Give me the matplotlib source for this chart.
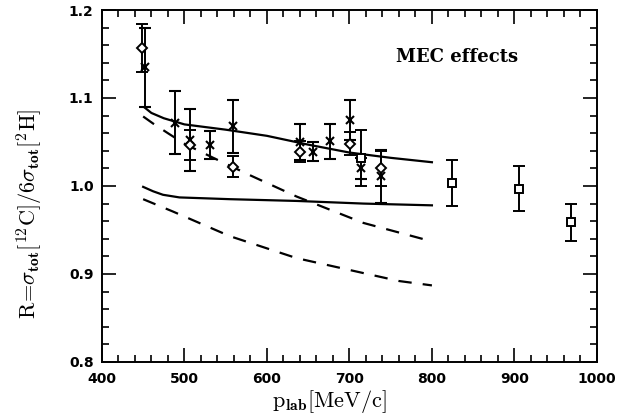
import numpy as np
import matplotlib.pyplot as plt
from matplotlib.ticker import MultipleLocator

plt.rcParams['mathtext.fontset'] = 'cm'

# data
cross_x = [452, 488, 507, 531, 559, 640, 656, 676, 701, 714, 738]
cross_y = [1.135, 1.072, 1.052, 1.047, 1.068, 1.050, 1.039, 1.051, 1.075, 1.020, 1.011]
cross_err = [0.045, 0.036, 0.035, 0.016, 0.030, 0.021, 0.011, 0.020, 0.023, 0.012, 0.030]

diam_x = [449, 507, 559, 640, 701, 738]
diam_y = [1.157, 1.047, 1.022, 1.039, 1.048, 1.020]
diam_err = [0.027, 0.017, 0.012, 0.012, 0.013, 0.020]

square_x = [714, 824, 905, 968]
square_y = [1.032, 1.003, 0.997, 0.959]
square_err = [0.032, 0.026, 0.026, 0.021]

# theory curves
solid_hi_x = [452, 460, 475, 500, 550, 600, 650, 700, 750, 800]
solid_hi_y = [1.089, 1.083, 1.077, 1.070, 1.064, 1.057, 1.047, 1.038, 1.032, 1.027]
solid_lo_x = [450, 462, 474, 494, 555, 636, 717, 800]
solid_lo_y = [0.999, 0.994, 0.990, 0.987, 0.985, 0.983, 0.980, 0.978]
dash_hi_x = [450, 462, 480, 500, 535, 580, 636, 717, 800]
dash_hi_y = [1.079, 1.071, 1.060, 1.048, 1.032, 1.012, 0.988, 0.958, 0.937]
dash_lo_x = [450, 486, 555, 636, 717, 760, 800]
dash_lo_y = [0.985, 0.971, 0.943, 0.918, 0.901, 0.892, 0.887]

fig = plt.figure(figsize=(6.29, 4.17), dpi=100)
ax = fig.add_axes([0.162, 0.132, 0.787, 0.844])

ax.plot(solid_hi_x, solid_hi_y, color='black', lw=1.6)
ax.plot(solid_lo_x, solid_lo_y, color='black', lw=1.6)
ax.plot(dash_hi_x, dash_hi_y, color='black', lw=1.6, ls=(0, (6, 5)))
ax.plot(dash_lo_x, dash_lo_y, color='black', lw=1.6, ls=(0, (6, 5)))

eb = dict(color='black', ecolor='black', elinewidth=1.4, capsize=4, capthick=1.4, ls='none')
ax.errorbar(cross_x, cross_y, yerr=cross_err, marker='x', ms=6, mew=1.5, **eb)
ax.errorbar(diam_x, diam_y, yerr=diam_err, marker='D', ms=5, mew=1.4, mfc='white', **eb)
ax.errorbar(square_x, square_y, yerr=square_err, marker='s', ms=6, mew=1.4, mfc='white', **eb)

ax.set_xlim(400, 1000)
ax.set_ylim(0.8, 1.2)
ax.xaxis.set_minor_locator(MultipleLocator(20))
ax.yaxis.set_minor_locator(MultipleLocator(0.02))
ax.tick_params(which='both', direction='in', top=True, right=True, width=1.2)
ax.tick_params(which='major', length=10)
ax.tick_params(which='minor', length=5)
ax.tick_params(axis='x', pad=7)
ax.tick_params(axis='y', pad=6)
for s in ax.spines.values():
    s.set_linewidth(1.4)

ax.set_xticks([400, 500, 600, 700, 800, 900, 1000])
ax.set_xticklabels(['400', '500', '600', '700', '800', '900', '1000'],
                   fontweight='bold', fontsize=10)
ax.set_yticks([0.8, 0.9, 1.0, 1.1, 1.2])
ax.set_yticklabels(['0.8', '0.9', '1.0', '1.1', '1.2'], fontweight='bold', fontsize=10)

ax.set_xlabel(r'$\mathrm{p}_{\mathbf{lab}}\mathrm{[MeV/c]}$', fontsize=16)
ax.set_ylabel(r'$\mathrm{R\!=\!\sigma_{\mathbf{tot}}[^{12}C]/6\sigma_{\mathbf{tot}}[^{2}H]}$',
              fontsize=16)
ax.xaxis.set_label_coords(0.46, -0.075)
ax.yaxis.set_label_coords(-0.115, 0.42)

ax.text(830, 1.147, 'MEC effects', ha='center', va='center', fontsize=13,
        fontweight='bold', family='DejaVu Serif')

fig.savefig('out.png', dpi=100)
